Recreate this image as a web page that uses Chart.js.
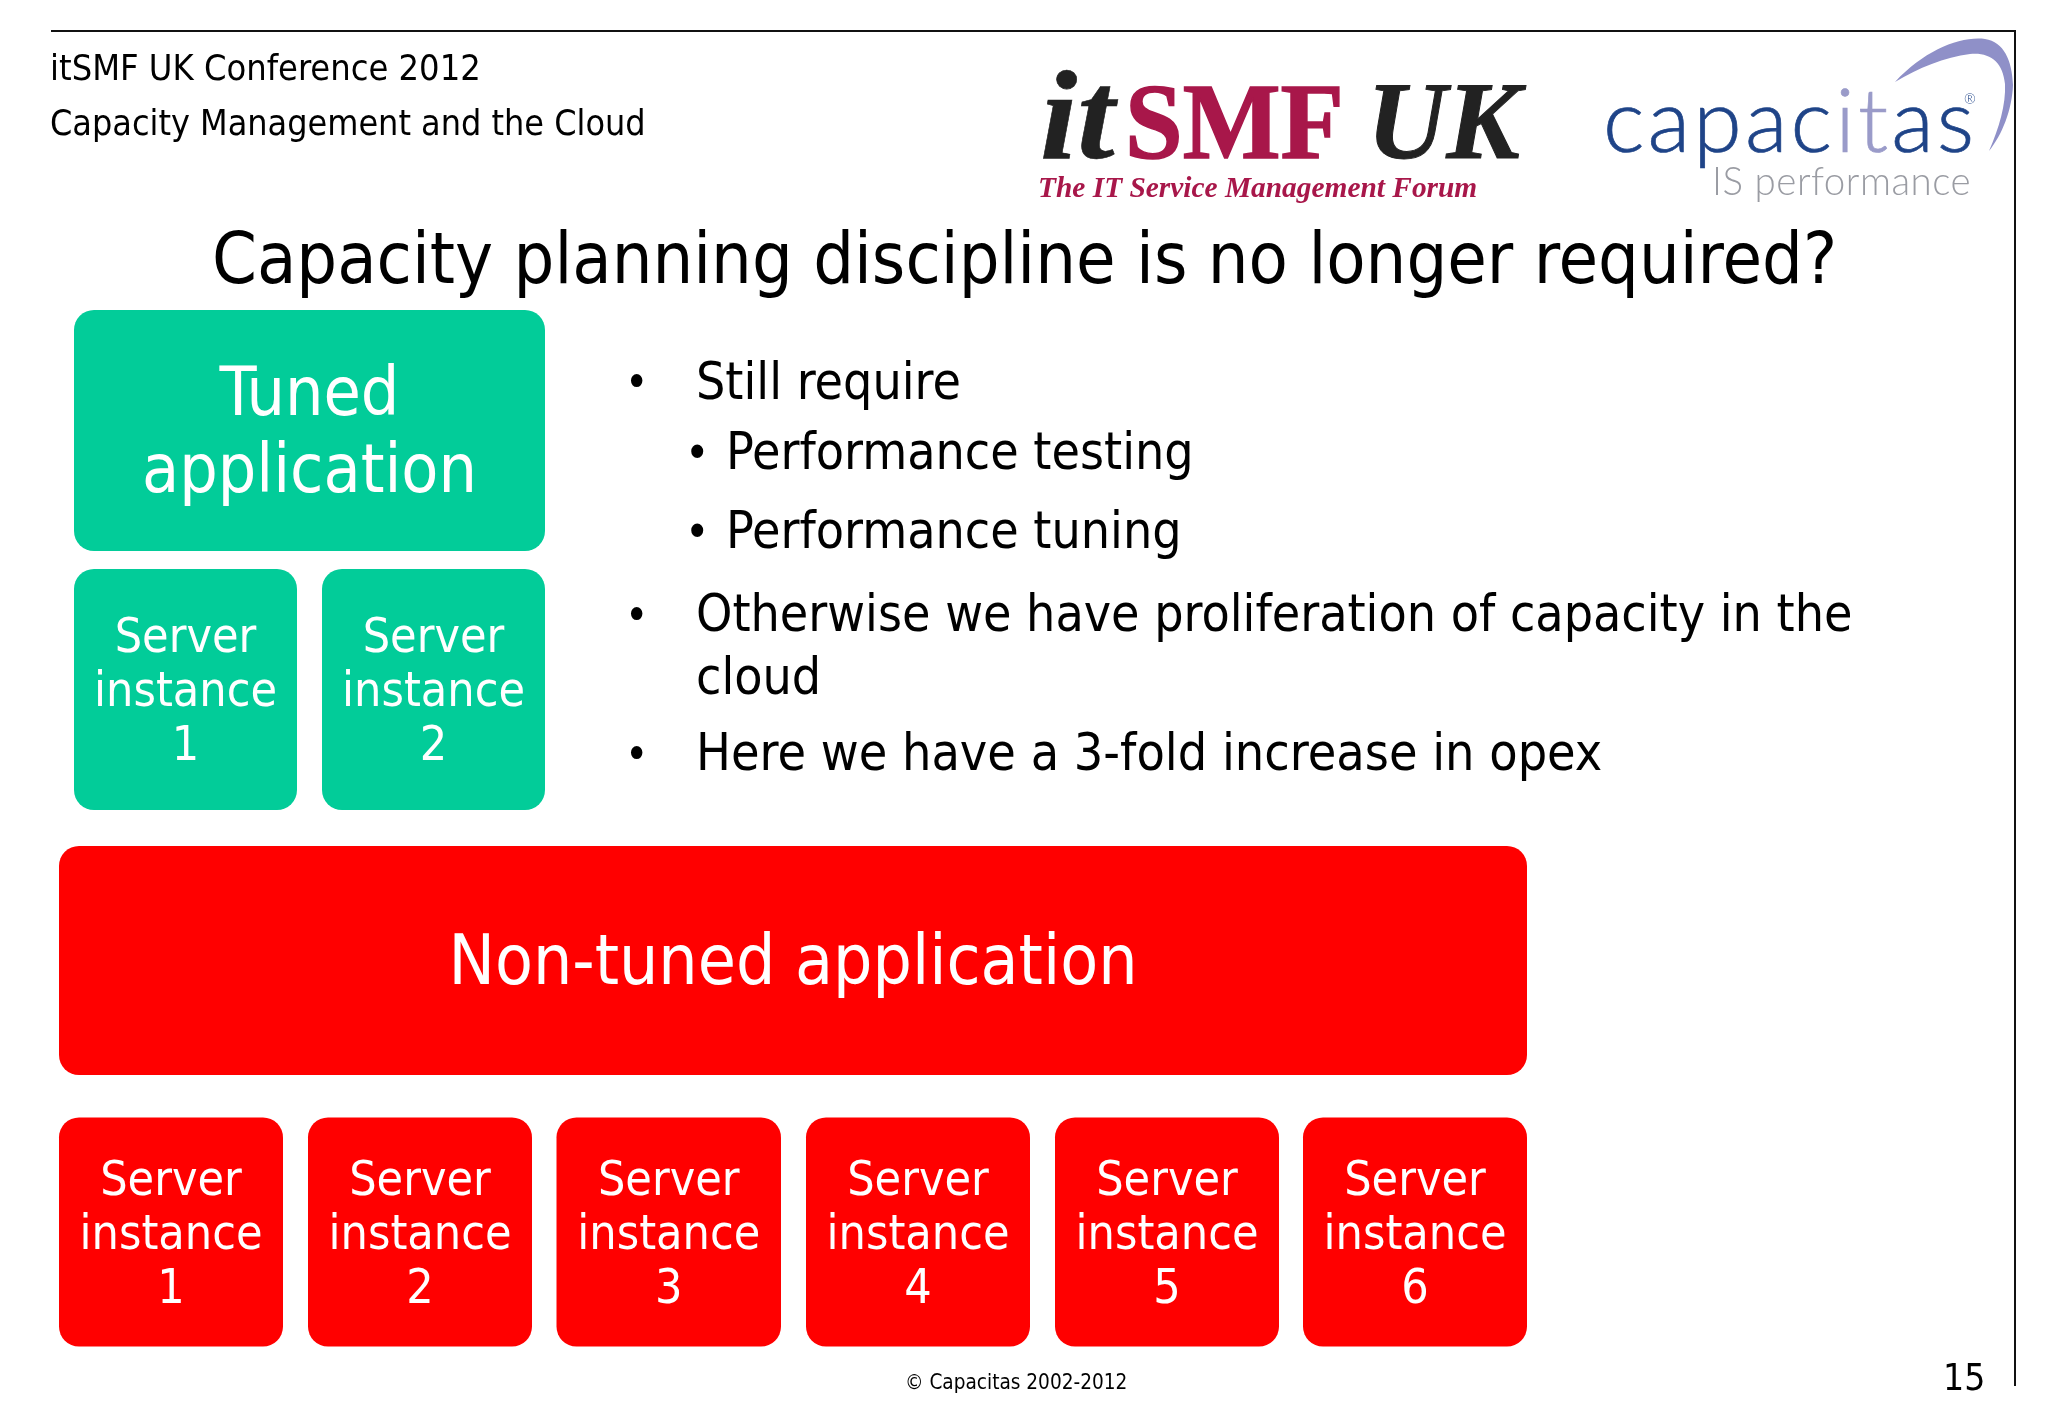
<!DOCTYPE html>
<html><head><meta charset="utf-8">
<script src="https://cdn.jsdelivr.net/npm/chart.js@4/dist/chart.umd.min.js"></script>
<style>
html,body{margin:0;padding:0;background:#fff;width:2048px;height:1418px;overflow:hidden}
canvas{position:absolute;left:0;top:0}
.t{position:absolute;white-space:nowrap;line-height:1;color:#000;font-family:"DejaVu Sans Condensed","DejaVu Sans";font-stretch:condensed}
.r{position:absolute;background:#111}
</style></head><body>
<canvas id="c" width="2048" height="1418"></canvas>
<div class="r" style="left:51px;top:30px;width:1965px;height:2px"></div>
<div class="r" style="left:2014px;top:30px;width:2px;height:1356px"></div>
<svg style="position:absolute;left:0;top:0" width="2048" height="200"><path d="M1895 82C1925 50 1960 36 1985 39C2004 42 2012 60 2013 85C2012 110 2002 135 1989 151C1999 128 2006 105 2005 84C2003 62 1990 52 1970 54C1945 57 1918 68 1895 82Z" fill="#8F90C8"/></svg>
<div id="txt"></div>
<script>
// Slide labels
const headerLines = ["itSMF UK Conference 2012", "Capacity Management and the Cloud"];
const slideTitle = "Capacity planning discipline is no longer required?";
const bullets = ["Still require", "Performance testing", "Performance tuning", "Otherwise we have proliferation of capacity in the", "cloud", "Here we have a 3-fold increase in opex"];
const footerText = "© Capacitas 2002-2012";
const pageNumber = "15";

// Box rows (slide units)
const tunedLabels = ["Tuned\napplication", "Server\ninstance\n1", "Server\ninstance\n2"];
const tunedRowCentres = [430.5, 689.5, 689.5];
const tunedSpans = [[74, 545], [74, 297], [322, 545]];
const nonTunedLabels = ["Non-tuned application", "Server\ninstance\n1", "Server\ninstance\n2", "Server\ninstance\n3", "Server\ninstance\n4", "Server\ninstance\n5", "Server\ninstance\n6"];
const nonTunedRowCentres = [960.5, 1232, 1232, 1232, 1232, 1232, 1232];
const nonTunedSpans = [[59, 1527], [59, 283], [308, 532], [556.5, 781], [806, 1030], [1055, 1279], [1303, 1527]];

const FONT = '"DejaVu Sans Condensed","DejaVu Sans"';
const toPoints = (spans, centres) => spans.map((s, i) => ({x: s, y: centres[i]}));

const boxText = {
  id: 'boxText',
  afterDatasetsDraw(chart) {
    const ctx = chart.ctx;
    ctx.save();
    ctx.fillStyle = '#fff';
    ctx.textAlign = 'center';
    ctx.textBaseline = 'alphabetic';
    chart.data.datasets.forEach((ds, d) => {
      chart.getDatasetMeta(d).data.forEach((bar, i) => {
        const lines = ds.boxLabels[i].split('\n');
        const big = i === 0;
        const size = big ? (lines.length === 1 ? 69 : 67.5) : 48;
        const lh = big ? 77 : 54;
        ctx.font = size + 'px ' + FONT;
        const c = bar.getCenterPoint();
        const cy = c.y + (big ? 23 : 16.5);
        lines.forEach((l, k) => ctx.fillText(l, c.x, cy + (k - (lines.length - 1) / 2) * lh));
      });
    });
    ctx.restore();
  }
};

new Chart(document.getElementById('c'), {
  type: 'bar',
  plugins: [boxText],
  data: {
    datasets: [
      {label: 'Tuned', boxLabels: tunedLabels, data: toPoints(tunedSpans, tunedRowCentres), backgroundColor: '#02CC99', barThickness: 241},
      {label: 'Non-tuned', boxLabels: nonTunedLabels, data: toPoints(nonTunedSpans, nonTunedRowCentres), backgroundColor: '#FF0000', barThickness: 229}
    ]
  },
  options: {
    indexAxis: 'y',
    responsive: false,
    animation: false,
    devicePixelRatio: 1,
    grouped: false,
    borderRadius: 20,
    borderSkipped: false,
    inflateAmount: 0,
    layout: {padding: 0},
    plugins: {legend: {display: false}, tooltip: {enabled: false}, title: {display: false}},
    scales: {
      x: {type: 'linear', min: 0, max: 2048, display: false},
      y: {type: 'linear', min: 0, max: 1418, reverse: true, display: false, offset: false}
    }
  }
});

const host = document.getElementById('txt');
function put(text, x, baseline, size, extra) {
  const e = document.createElement('div');
  e.className = 't';
  e.textContent = text;
  e.style.left = x + 'px';
  e.style.fontSize = size + 'px';
  Object.assign(e.style, extra || {});
  host.appendChild(e);
  const probe = document.createElement('span');
  probe.style.cssText = 'display:inline-block;width:0;height:0;vertical-align:baseline';
  e.appendChild(probe);
  e.style.top = '0px';
  const by = probe.getBoundingClientRect().bottom;
  e.style.top = (baseline - by) + 'px';
  probe.remove();
  return e;
}
put(headerLines[0], 50, 80, 35.9);
put(headerLines[1], 50, 135, 35.6);
put(slideTitle, 212, 283, 71.5);
put('•', 625, 397, 44); put(bullets[0], 696, 398.5, 51.4);
put('•', 685, 469, 46); put(bullets[1], 726, 468.5, 51.4);
put('•', 685, 548, 46); put(bullets[2], 726, 547.5, 51.4);
put('•', 625, 630, 44); put(bullets[3], 696, 630.5, 51.4);
put(bullets[4], 696, 693.5, 51.4);
put('•', 625, 769, 44); put(bullets[5], 696, 769.5, 51.6);
put(footerText, 905, 1389, 20.6);
put(pageNumber, 1943, 1390, 37);

const serif = {fontFamily: '"Liberation Serif"', fontStretch: 'normal', fontWeight: 'bold', transformOrigin: 'left bottom'};
put('it', 1040, 158, 128, {...serif, fontStyle: 'italic', color: '#222', transform: 'scaleX(1.05)', WebkitTextStroke: '.6px #222'});
put('SMF', 1125, 158, 108, {...serif, color: '#A8174A', transform: 'scaleX(.96)', WebkitTextStroke: '1.5px #A8174A'});
put('UK', 1367, 158, 110, {...serif, fontStyle: 'italic', color: '#222', WebkitTextStroke: '1px #222'});
put('The IT Service Management Forum', 1038, 197, 29.4, {...serif, fontStyle: 'italic', color: '#A8174A'});
const logo = {fontFamily: 'Lato', fontStretch: 'normal', fontWeight: '300'};
const word = put('', 1603, 152, 88, {...logo, color: '#1F4488', letterSpacing: '3.1px'});
[['capac', '#1F4488'], ['it', '#9A9BC9'], ['as', '#1F4488']].forEach(([s, col]) => {
  const sp = document.createElement('span');
  sp.textContent = s;
  sp.style.color = col;
  sp.style.webkitTextStroke = '.7px ' + col;
  word.appendChild(sp);
});
put('®', 1964, 104, 14, {...logo, color: '#1F4488'});
put('IS performance', 1712, 195, 38.5, {...logo, color: '#9A9CA3', letterSpacing: '.5px'});
</script>
</body></html>
